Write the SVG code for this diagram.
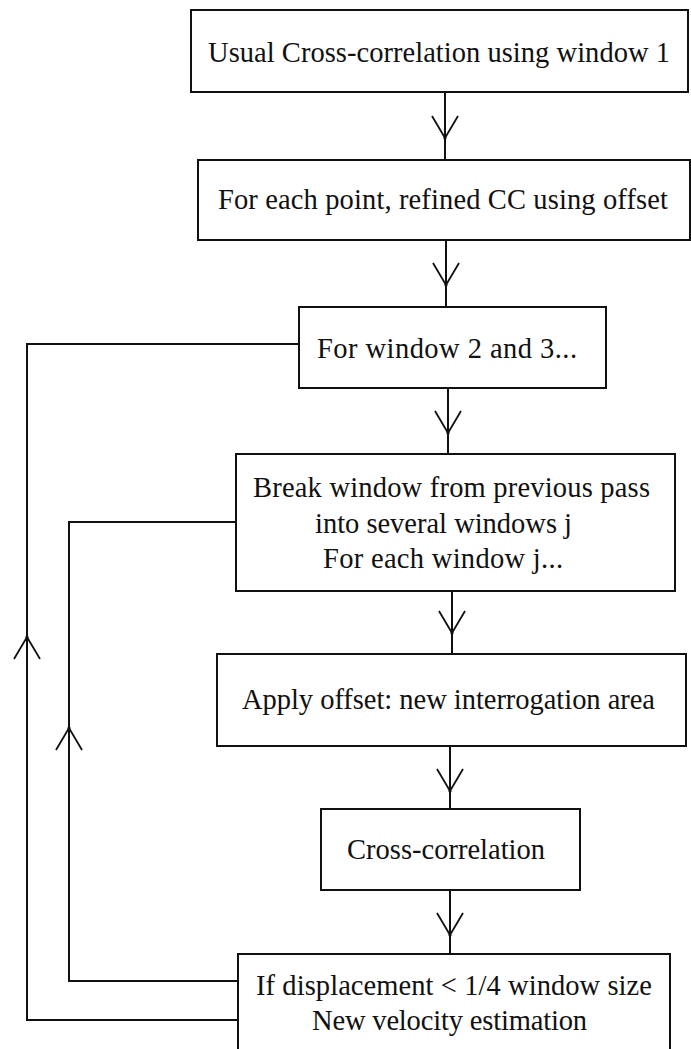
<svg xmlns="http://www.w3.org/2000/svg" xmlns:xlink="http://www.w3.org/1999/xlink" width="691" height="1049" viewBox="0 0 691 1049">
  <style>
    .box { fill: #ffffff; stroke: #111111; stroke-width: 2; }
    .wire { fill: none; stroke: #111111; stroke-width: 2; }
    .head { fill: none; stroke: #111111; stroke-width: 1.8; }
    .lbl { font-family: "Liberation Serif", "Times New Roman", serif; font-size: 28.5px; fill: #111111; }
  </style>
  <defs>
    <!-- open V arrowhead, tip at origin, pointing down -->
    <g id="vhead">
      <path class="head" d="M-13,-22 L0,0 L13,-22"/>
      <circle cx="0" cy="0" r="1.6" fill="#111111"/>
    </g>
  </defs>
  <rect width="691" height="1049" fill="#ffffff"/>

  <g id="connectors">
    <!-- main downward flow -->
    <line class="wire" x1="445" y1="92" x2="445" y2="160"/>
    <use xlink:href="#vhead" x="445" y="138"/>
    <line class="wire" x1="446" y1="240" x2="446" y2="307"/>
    <use xlink:href="#vhead" x="446" y="285"/>
    <line class="wire" x1="448" y1="388" x2="448" y2="454"/>
    <use xlink:href="#vhead" x="448" y="433"/>
    <line class="wire" x1="452" y1="591" x2="452" y2="654"/>
    <use xlink:href="#vhead" x="452" y="633"/>
    <line class="wire" x1="450" y1="746" x2="450" y2="809"/>
    <use xlink:href="#vhead" x="450" y="791"/>
    <line class="wire" x1="450" y1="890" x2="450" y2="954"/>
    <use xlink:href="#vhead" x="450" y="935"/>
    <!-- outer loop back to "For window 2 and 3..." -->
    <polyline class="wire" points="238,1020 27,1020 27,344 299,344"/>
    <use xlink:href="#vhead" transform="translate(27,637) rotate(180)"/>
    <!-- inner loop back to "Break window ..." -->
    <polyline class="wire" points="238,981 69,981 69,522 236,522"/>
    <use xlink:href="#vhead" transform="translate(69,728) rotate(180)"/>
  </g>

  <g id="node-usual-cc">
    <rect class="box" x="191" y="10" width="497" height="82"/>
    <text class="lbl" x="208" y="62" textLength="462" lengthAdjust="spacing">Usual Cross-correlation using window 1</text>
  </g>
  <g id="node-refined-cc">
    <rect class="box" x="198" y="160" width="492" height="80"/>
    <text class="lbl" x="218" y="209" textLength="450" lengthAdjust="spacing">For each point, refined CC using offset</text>
  </g>
  <g id="node-window-loop">
    <rect class="box" x="299" y="307" width="307" height="81"/>
    <text class="lbl" x="317" y="358" textLength="260" lengthAdjust="spacing">For window 2 and 3...</text>
  </g>
  <g id="node-break-window">
    <rect class="box" x="236" y="454" width="439" height="137"/>
    <text class="lbl" x="253" y="497" textLength="397" lengthAdjust="spacing">Break window from previous pass</text>
    <text class="lbl" x="315" y="533" textLength="257" lengthAdjust="spacing">into several windows j</text>
    <text class="lbl" x="323" y="568" textLength="240" lengthAdjust="spacing">For each window j...</text>
  </g>
  <g id="node-apply-offset">
    <rect class="box" x="217" y="654" width="469" height="92"/>
    <text class="lbl" x="242" y="709" textLength="413" lengthAdjust="spacing">Apply offset: new interrogation area</text>
  </g>
  <g id="node-cross-correlation">
    <rect class="box" x="321" y="809" width="259" height="81"/>
    <text class="lbl" x="347" y="859" textLength="198" lengthAdjust="spacing">Cross-correlation</text>
  </g>
  <g id="node-displacement-test">
    <rect class="box" x="238" y="954" width="432" height="110"/>
    <text class="lbl" x="256" y="995" textLength="396" lengthAdjust="spacing">If displacement &lt; 1/4 window size</text>
    <text class="lbl" x="312" y="1030" textLength="275" lengthAdjust="spacing">New velocity estimation</text>
  </g>
</svg>
